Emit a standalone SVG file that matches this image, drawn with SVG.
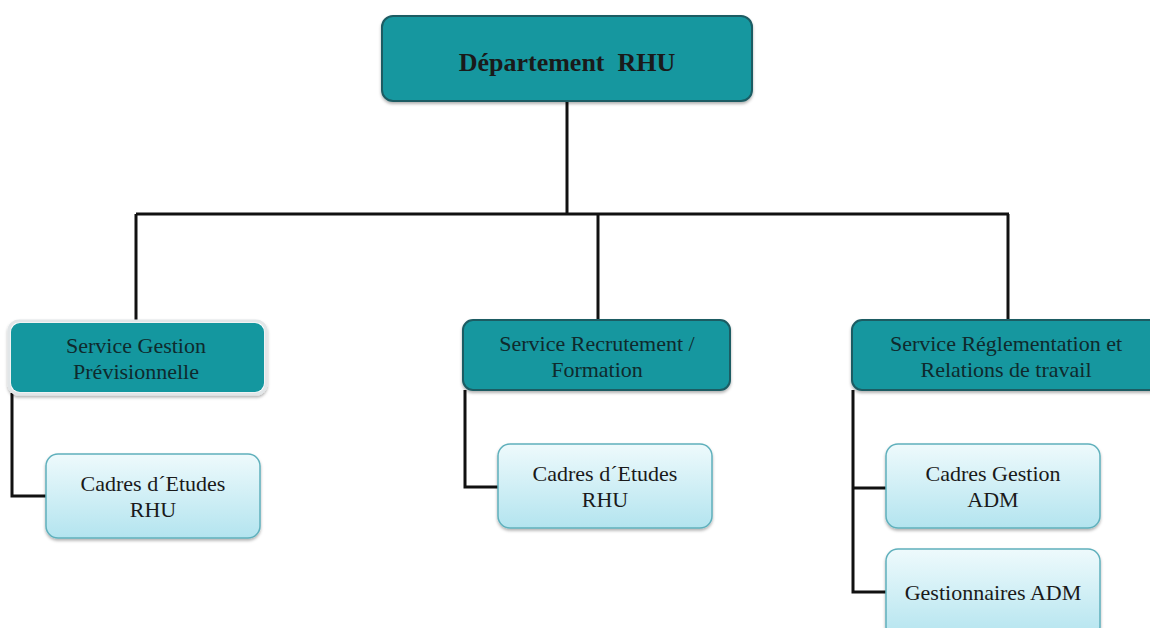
<svg xmlns="http://www.w3.org/2000/svg" width="1150" height="628" viewBox="0 0 1150 628">
  <defs>
    <linearGradient id="lightFill" x1="0" y1="0" x2="0" y2="1">
      <stop offset="0" stop-color="#eefafc"/>
      <stop offset="1" stop-color="#b3e4ef"/>
    </linearGradient>
    <filter id="shadow" x="-10%" y="-10%" width="120%" height="130%">
      <feDropShadow dx="0" dy="2" stdDeviation="1.5" flood-color="#000" flood-opacity="0.3"/>
    </filter>
    <style>
      .head { fill: #14979f; stroke: #1d5c63; stroke-width: 2; filter: url(#shadow); }
      .sub { fill: url(#lightFill); stroke: #5fb0bc; stroke-width: 1.5; filter: url(#shadow); }
      .link { fill: none; stroke: #111; stroke-width: 3; }
      .t { font-family: "Liberation Serif", "Times New Roman", serif; text-anchor: middle; fill: #1a1a1a; }
      .th { font-size: 22px; fill: #0f2a2d; }
      .ts { font-size: 22px; }
    </style>
  </defs>
  <rect width="1150" height="628" fill="#ffffff"/>

  <!-- connectors -->
  <g id="connectors">
    <path class="link" d="M567,101 V214"/>
    <path class="link" d="M136,214 H1009"/>
    <path class="link" d="M136,214 V322"/>
    <path class="link" d="M598,214 V320"/>
    <path class="link" d="M1008,214 V320"/>
    <path class="link" d="M12,393 V496 H46"/>
    <path class="link" d="M465,390 V487 H498"/>
    <path class="link" d="M853,390 V592 H886"/>
    <path class="link" d="M853,488 H886"/>
  </g>

  <!-- top node -->
  <g id="dept-rhu">
    <rect class="head" x="382" y="16" width="370" height="85" rx="11"/>
    <text class="t" x="567" y="71" font-size="26" font-weight="bold" fill="#0f2a2d" xml:space="preserve">Département  RHU</text>
  </g>

  <!-- services -->
  <g id="service-gestion">
    <rect x="9" y="321" width="257" height="73" rx="10" fill="#ffffff" stroke="#e2e6e8" stroke-width="3" filter="url(#shadow)"/>
    <rect x="11" y="323" width="253" height="69" rx="9" fill="#14979f"/>
    <text class="t th" x="136" y="353">Service Gestion</text>
    <text class="t th" x="136" y="379">Prévisionnelle</text>
  </g>

  <g id="service-recrutement">
    <rect class="head" x="463" y="320" width="267" height="70" rx="10"/>
    <text class="t th" x="597" y="351">Service Recrutement /</text>
    <text class="t th" x="597" y="377">Formation</text>
  </g>

  <g id="service-reglementation">
    <rect class="head" x="852" y="320" width="310" height="70" rx="10"/>
    <text class="t th" x="1006" y="351">Service Réglementation et</text>
    <text class="t th" x="1006" y="377">Relations de travail</text>
  </g>

  <!-- staff units -->
  <g id="cadres-etudes-1">
    <rect class="sub" x="46" y="454" width="214" height="84" rx="12"/>
    <text class="t ts" x="153" y="491">Cadres d´Etudes</text>
    <text class="t ts" x="153" y="517">RHU</text>
  </g>

  <g id="cadres-etudes-2">
    <rect class="sub" x="498" y="444" width="214" height="84" rx="12"/>
    <text class="t ts" x="605" y="481">Cadres d´Etudes</text>
    <text class="t ts" x="605" y="507">RHU</text>
  </g>

  <g id="cadres-gestion">
    <rect class="sub" x="886" y="444" width="214" height="84" rx="12"/>
    <text class="t ts" x="993" y="481">Cadres Gestion</text>
    <text class="t ts" x="993" y="507">ADM</text>
  </g>

  <g id="gestionnaires">
    <rect class="sub" x="886" y="549" width="214" height="90" rx="12"/>
    <text class="t ts" x="993" y="600">Gestionnaires ADM</text>
  </g>
</svg>
